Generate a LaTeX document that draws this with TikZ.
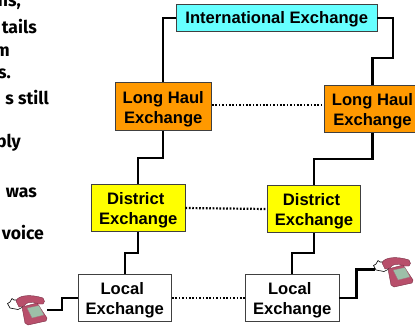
\documentclass[tikz,border=0pt]{standalone}
\usepackage{fontspec}
\setmainfont{Liberation Sans}
\newfontfamily\notefont{Fira Sans}
\definecolor{boxline}{HTML}{404040}
\definecolor{cyanfill}{HTML}{66FFFF}
\definecolor{orangefill}{HTML}{FF9900}
\definecolor{yellowfill}{HTML}{FFFF00}
\definecolor{phonebody}{HTML}{B84F6B}
\definecolor{phonedark}{HTML}{7A2F45}
\definecolor{phonekeys}{HTML}{9DBFA8}
\newcommand{\liftline}{\rule{0pt}{17pt}}
\newcommand{\liftsolo}{\rule{0pt}{14.5pt}}
\newcommand{\nudge}{\hspace*{5pt}}
\tikzset{
  x=1pt,y=-1pt,
  exch/.style={draw=boxline,line width=0.9pt,align=center,inner sep=0pt,
    font=\fontsize{16.6}{20}\selectfont\bfseries,text=black,
    minimum width=93.5pt,minimum height=47.5pt},
  link/.style={draw=black,line width=2.2pt},
  peer/.style={draw=black,line width=2.2pt,dash pattern=on 1.7pt off 1.7pt},
  note/.style={anchor=base east,inner sep=0pt,font=\notefont\fontsize{17.6}{20}\selectfont\bfseries,text=black},
  phone/.pic={
    \fill[white,draw=black,line width=0.6pt] (8.5,20.5) -- (11,19) -- (13,15.5) -- (15,17) -- (20,17) -- (24,24) -- (19,26.5) -- (11,25) -- cycle;
    \fill[phonebody,draw=phonedark,line width=0.4pt]
      (17,18) .. controls (19,12) and (32,11) .. (44,15) .. controls (46,17) and (46,20) .. (44,21)
      -- (39,21) .. controls (33,18) and (27,19) .. (25,23) -- (20,24) -- cycle;
    \fill[phonebody,draw=phonedark,line width=0.4pt]
      (23,24) -- (38,20) -- (48,35) -- (47,38) -- (29,42) -- (26,40) -- cycle;
    \fill[phonekeys,draw=phonedark!70,line width=0.3pt] (28,25) -- (40,22.5) -- (45,32) -- (33,35) -- cycle;
  }
}
\begin{document}
\begin{tikzpicture}
\clip (0,0) rectangle (415,325);
\fill[white] (0,0) rectangle (415,325);
% clipped left-hand text
\node[note] (t1) at (21,6) {ns,};
\node[note] (t2) at (37,33) {tails};
\node[note] (t3) at (10,56) {m};
\node[note] (t4) at (11,78) {s.};
\node[note] (t5) at (49,104) {s still};
\node[note] (t6) at (21,147) {ply};
\node[note] (t7) at (37,197) {was};
\node[note] (t8) at (44,239) {voice};
% exchanges
\node[exch,fill=cyanfill,minimum width=200.5pt,minimum height=27.5pt] (intl) at (276.75,17.75) {\liftsolo International Exchange};
\node[exch,fill=orangefill,minimum width=96.5pt] (lhl) at (163.25,106.5) {\liftline Long Haul\\Exchange};
\node[exch,fill=orangefill,minimum width=96.5pt] (lhr) at (372.5,108.75) {\liftline Long Haul\\Exchange};
\node[exch,fill=yellowfill] (dl) at (138.25,208) {\liftline District\nudge\\Exchange};
\node[exch,fill=yellowfill] (dr) at (314,209) {\liftline District\nudge\\Exchange};
\node[exch,fill=white] (ll) at (124.75,298) {\liftline Local\nudge\\Exchange};
\node[exch,fill=white] (lr) at (292.25,298) {\liftline Local\nudge\\Exchange};
\coordinate (pl) at (47,310);
\coordinate (pr) at (375,269.5);
% hierarchy links
\draw[link] (intl.west) -| (lhl.north);
\draw[link] (intl.east) -- ++(15.5,0) -- ++(0,40.5) -| (lhr.north);
\draw[link] (lhl.south) -- ++(0,27) -| (dl.north);
\draw[link] (lhr.south) -- ++(0,26) -| (dr.north);
\draw[link] (dl.south) -- ++(0,21) -| (ll.north);
\draw[link] (dr.south) -- ++(0,20) -| (lr.north);
\draw[link] (pl) -- ++(15,0) |- (ll.west);
\draw[link] (lr.east) -- ++(17,0) |- (pr);
% peer links
\draw[peer] (lhl.east |- 0,105) -- (lhr.west |- 0,105);
\draw[peer] (dl.east) -- (dr.west);
\draw[peer] (ll.east) -- (lr.west);
% phones
\pic at (-1,283) {phone};
\pic at (365,245) {phone};
\end{tikzpicture}
\end{document}
